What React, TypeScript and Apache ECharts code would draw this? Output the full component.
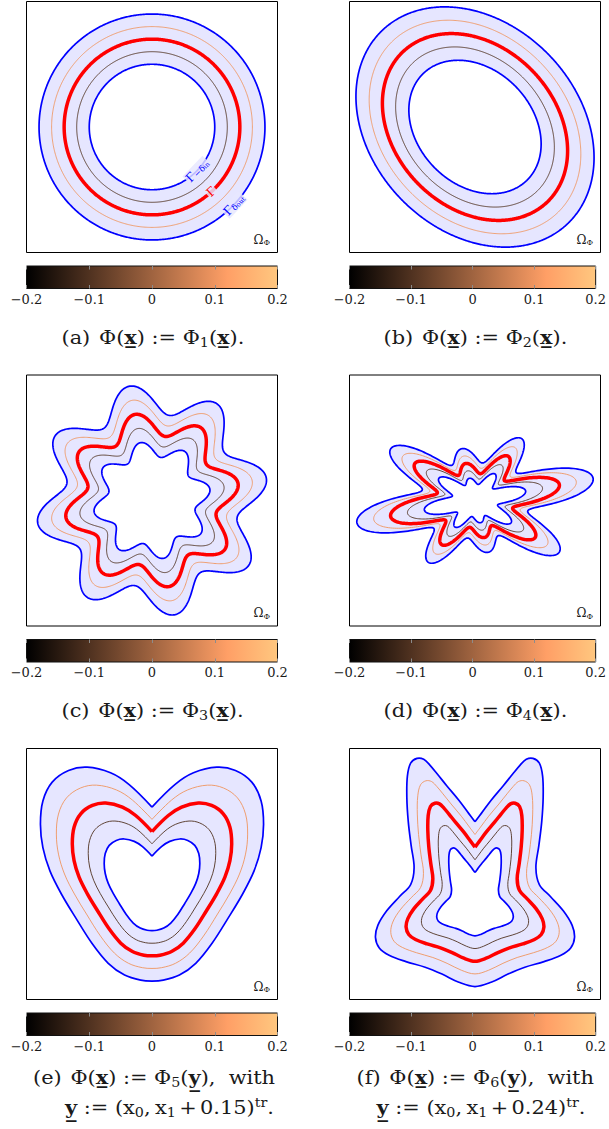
import React, { useEffect, useRef } from "react";
import * as echarts from "echarts";

const W = 609;
const H = 1129;
const FONT = "'DejaVu Serif', 'Liberation Serif', serif";

// ---------- data ----------
const levels = [-0.2, -0.1, 0, 0.1, 0.2];
const levelColors = ["#0000ff", "#503220", "#ff0000", "#ef955f", "#0000ff"];
const levelWidths = [1.7, 0.9, 3.5, 0.9, 1.7];
const bandFill = "#e6e6ff";

const cbTicks = [-0.2, -0.1, 0, 0.1, 0.2];
const copperPos = [0, 0.8, 1];
const copperColors = ["#000000", "#ff9f66", "#ffc77f"];

// (a) circle
const circleR0 = 0.7;
// (b) tilted ellipse (zero level semi-axes)
const ellipseR0 = 0.7;
const ellipseAxes = [0.83, 0.64];
const ellipseTiltDeg = -46;
// (c) eight-lobed flower
const flowerR0 = 0.61;
const flowerAmp = 0.146;
const flowerLobes = 8;
// (d) eight-pointed star, zero level: base and spike amplitude (mean, cos2θ, sin2θ)
const starR0 = 0.5;
const starLobes = 8;
const starBase = [0.377, 0.125, 0.009];
const starAmp = [0.115, 0.076, 0.006];
// (e) heart, zero level, left half (x, y) from notch to bottom
const heartR0 = 0.5;
const heartShift = 0.15;
const heartX = [0, -0.13, -0.236, -0.369, -0.475, -0.568, -0.621, -0.635, -0.621, -0.581, -0.515, -0.435, -0.342, -0.249, -0.156, -0.064, 0];
const heartY = [0.488, 0.616, 0.683, 0.715, 0.696, 0.63, 0.523, 0.39, 0.257, 0.125, -0.008, -0.141, -0.287, -0.401, -0.468, -0.497, -0.502];
// (f) eared shape, zero level, left half (x, y) from notch to bottom
const earsR0 = 0.45;
const earsShift = 0.24;
const earsX = [0, -0.036, -0.089, -0.156, -0.209, -0.249, -0.283, -0.32, -0.355, -0.373, -0.376, -0.368, -0.352, -0.336, -0.355, -0.416, -0.488, -0.536, -0.549, -0.528, -0.474, -0.381, -0.275, -0.182, -0.089, 0];
const earsY = [0.454, 0.502, 0.573, 0.653, 0.719, 0.767, 0.799, 0.804, 0.778, 0.706, 0.587, 0.454, 0.321, 0.201, 0.108, 0.042, -0.038, -0.117, -0.184, -0.242, -0.282, -0.317, -0.348, -0.386, -0.431, -0.455];

const subIndex = ["1", "2", "3", "4", "5", "6"];
const panelLetters = ["a", "b", "c", "d", "e", "f"];
const shiftText = ["", "", "", "", "0.15", "0.24"];

// ---------- layout ----------
const colX = [26.5, 349.5];
const rowY = [1.5, 375, 748.5];
const BOX = 251;
const CB_GAP = 13.5;
const CB_H = 22.5;
const omegaPos = [0.875, -0.9];
const capLeft = [61.5, 383.5];
const capLeft2 = [[33, 65], [356.5, 376.5]];
const CAP_SCALE = 1.1;

const N = 720;

function polarLevels(R0: number, rFn: (t: number) => number) {
  return levels.map((c) => {
    const k = (R0 + c) / R0;
    const pts: number[][] = [];
    for (let i = 0; i <= N; i++) {
      const t = (2 * Math.PI * i) / N;
      const r = k * rFn(t);
      pts.push([r * Math.cos(t), r * Math.sin(t)]);
    }
    return pts;
  });
}

function ellipseLevels() {
  const phi = (ellipseTiltDeg * Math.PI) / 180;
  return levels.map((c) => {
    const k = (ellipseR0 + c) / ellipseR0;
    const pts: number[][] = [];
    for (let i = 0; i <= N; i++) {
      const t = (2 * Math.PI * i) / N;
      const ex = k * ellipseAxes[0] * Math.cos(t);
      const ey = k * ellipseAxes[1] * Math.sin(t);
      pts.push([ex * Math.cos(phi) - ey * Math.sin(phi), ex * Math.sin(phi) + ey * Math.cos(phi)]);
    }
    return pts;
  });
}

function sampledLevels(xs: number[], ys: number[], R0: number, shift: number) {
  const loop: number[][] = xs.map((x, i) => [x, ys[i]]);
  for (let i = xs.length - 2; i >= 0; i--) loop.push([-xs[i], ys[i]]);
  return levels.map((c) => {
    const k = (R0 + c) / R0;
    return loop.map(([x, y]) => [k * x, k * y - shift]);
  });
}

const harm = (h: number[], t: number) => h[0] + h[1] * Math.cos(2 * t) + h[2] * Math.sin(2 * t);

const panels = [
  { col: 0, row: 0, smooth: 0, curves: polarLevels(circleR0, () => circleR0), labels: true },
  { col: 1, row: 0, smooth: 0, curves: ellipseLevels(), labels: false },
  { col: 0, row: 1, smooth: 0, curves: polarLevels(flowerR0, (t) => flowerR0 * (1 + flowerAmp * Math.sin(flowerLobes * t))), labels: false },
  { col: 1, row: 1, smooth: 0, curves: polarLevels(starR0, (t) => harm(starBase, t) + harm(starAmp, t) * Math.sin(starLobes * t)), labels: false },
  { col: 0, row: 2, smooth: 0.35, curves: sampledLevels(heartX, heartY, heartR0, heartShift), labels: false },
  { col: 1, row: 2, smooth: 0.35, curves: sampledLevels(earsX, earsY, earsR0, earsShift), labels: false },
];

const gammaLabels = [
  { r: 0.5, ang: -44, text: "{g|Γ}{s|−δ}{t|in}", color: "#0000ff" },
  { r: 0.7, ang: -47.5, text: "{g|Γ}", color: "#ff0000" },
  { r: 0.9, ang: -43.5, text: "{g|Γ}{s|δ}{t|out}", color: "#0000ff" },
];

const fmtTick = (v: number) => {
  if (Math.abs(v) < 1e-9) return "0";
  return (v < 0 ? "\u2212" : "") + Math.abs(v).toFixed(1);
};

const CAP = "#1a1a1a";
const CS = 19;
const LH = 23;
const capRich = {
  n: { fontFamily: FONT, fontSize: CS, fill: CAP, lineHeight: LH },
  ng: { fontFamily: FONT, fontSize: CS, fill: CAP, lineHeight: LH, padding: [0, 8, 0, 0] },
  op: { fontFamily: FONT, fontSize: CS, fill: CAP, lineHeight: LH, padding: [0, 6, 0, 6] },
  pl: { fontFamily: FONT, fontSize: CS, fill: CAP, lineHeight: LH, padding: [0, 3, 0, 3] },
  nc: { fontFamily: FONT, fontSize: CS, fill: CAP, lineHeight: LH, padding: [0, 4, 0, 0] },
  w: { fontFamily: FONT, fontSize: CS, fill: CAP, lineHeight: LH, padding: [0, 0, 0, 12] },
  b: { fontFamily: FONT, fontSize: CS, fontWeight: "bold", fill: CAP, lineHeight: LH },
  s: { fontFamily: FONT, fontSize: 13, fill: CAP, verticalAlign: "bottom", lineHeight: 15 },
  p: { fontFamily: FONT, fontSize: 13, fill: CAP, verticalAlign: "top", lineHeight: 12 },
};

function buildOption() {
  const grid: any[] = [];
  const xAxis: any[] = [];
  const yAxis: any[] = [];
  const series: any[] = [];
  const graphic: any[] = [];

  panels.forEach((p, idx) => {
    const left = colX[p.col];
    const top = rowY[p.row];
    const gi = grid.length;
    grid.push({ left, top, width: BOX, height: BOX, show: true, borderColor: "#000", borderWidth: 1, backgroundColor: "#fff" });
    const xi = xAxis.length;
    xAxis.push({ type: "value", gridIndex: gi, min: -1, max: 1, show: false });
    const yi = yAxis.length;
    yAxis.push({ type: "value", gridIndex: gi, min: -1, max: 1, show: false });
    series.push({
      type: "custom",
      coordinateSystem: "cartesian2d",
      xAxisIndex: xi,
      yAxisIndex: yi,
      silent: true,
      data: [[0, 0]],
      renderItem: (_params: any, api: any) => {
        const toPx = (pts: number[][]) => pts.map((q) => api.coord(q));
        const children: any[] = [];
        const cv = p.curves;
        children.push({ type: "polyline", shape: { points: toPx(cv[4]), smooth: p.smooth }, style: { fill: bandFill, stroke: "none" } });
        children.push({ type: "polyline", shape: { points: toPx(cv[0]), smooth: p.smooth }, style: { fill: "#ffffff", stroke: "none" } });
        cv.forEach((c, j) => {
          children.push({
            type: "polyline",
            shape: { points: toPx(c), smooth: p.smooth },
            style: { fill: "none", stroke: levelColors[j], lineWidth: levelWidths[j], lineJoin: "round" },
          });
        });
        if (p.labels) {
          gammaLabels.forEach((L) => {
            const a = (L.ang * Math.PI) / 180;
            const pt = api.coord([L.r * Math.cos(a), L.r * Math.sin(a)]);
            children.push({
              type: "text",
              x: pt[0],
              y: pt[1],
              rotation: a + Math.PI / 2,
              style: {
                text: L.text,
                fill: L.color,
                align: "center",
                verticalAlign: "middle",
                backgroundColor: "rgba(230,230,255,0.82)",
                padding: [0, 1],
                rich: {
                  g: { fontFamily: FONT, fontSize: 12, fill: L.color, lineHeight: 13 },
                  s: { fontFamily: FONT, fontSize: 8.5, fill: L.color, verticalAlign: "bottom", lineHeight: 9 },
                  t: { fontFamily: FONT, fontSize: 6.5, fill: L.color, verticalAlign: "bottom", lineHeight: 6 },
                },
              },
            });
          });
        }
        const om = api.coord(omegaPos);
        children.push({
          type: "text",
          x: om[0],
          y: om[1],
          style: {
            text: "{o|Ω}{s|Φ}",
            align: "center",
            verticalAlign: "middle",
            rich: {
              o: { fontFamily: FONT, fontSize: 12, fill: "#1a1a1a", lineHeight: 14 },
              s: { fontFamily: FONT, fontSize: 8, fill: "#1a1a1a", verticalAlign: "bottom", lineHeight: 9 },
            },
          },
        });
        return { type: "group", children };
      },
    });

    // colorbar
    const cg = grid.length;
    grid.push({ left, top: top + BOX + CB_GAP, width: BOX, height: CB_H, show: false });
    const tickStyle = { show: true, inside: true, length: 3.5, lineStyle: { color: "#8c8c8c", width: 1 } };
    const cbx = xAxis.length;
    xAxis.push({
      type: "value", gridIndex: cg, min: cbTicks[0], max: cbTicks[cbTicks.length - 1], interval: 0.1,
      position: "bottom", z: 10, axisLine: { show: false }, splitLine: { show: false }, axisTick: tickStyle,
      axisLabel: { show: true, margin: 4, fontFamily: FONT, fontSize: 13, color: "#1a1a1a", formatter: fmtTick, showMinLabel: true, showMaxLabel: true },
    });
    xAxis.push({
      type: "value", gridIndex: cg, min: cbTicks[0], max: cbTicks[cbTicks.length - 1], interval: 0.1,
      position: "top", z: 10, axisLine: { show: false }, splitLine: { show: false }, axisTick: tickStyle, axisLabel: { show: false },
    });
    const cby = yAxis.length;
    yAxis.push({ type: "value", gridIndex: cg, min: 0, max: 1, show: false });
    series.push({
      type: "custom",
      coordinateSystem: "cartesian2d",
      xAxisIndex: cbx,
      yAxisIndex: cby,
      silent: true,
      z: 1,
      data: [[0, 0]],
      renderItem: (_params: any, api: any) => {
        const a = api.coord([cbTicks[0], 1]);
        const b = api.coord([cbTicks[cbTicks.length - 1], 0]);
        return {
          type: "rect",
          shape: { x: a[0], y: a[1], width: b[0] - a[0], height: b[1] - a[1] },
          style: {
            fill: new echarts.graphic.LinearGradient(0, 0, 1, 0, copperPos.map((o, j) => ({ offset: o, color: copperColors[j] }))),
            stroke: "#111",
            lineWidth: 1,
          },
        };
      },
    });

    // caption
    const letter = panelLetters[idx];
    const sub = subIndex[idx];
    const capY = top + 335.5;
    if (!shiftText[idx]) {
      graphic.push({
        type: "text",
        x: capLeft[p.col],
        y: capY,
        scaleX: CAP_SCALE,
        style: {
          text: `{ng|(${letter})}{n|Φ(}{b|x\u0332}{n|)}{op|:=}{n|Φ}{s|${sub}}{n|(}{b|x\u0332}{n|).}`,
          align: "left",
          verticalAlign: "middle",
          rich: capRich,
        },
      });
    } else {
      graphic.push({
        type: "text",
        x: capLeft2[p.col][0],
        y: capY - 7,
        scaleX: CAP_SCALE,
        style: {
          text: `{ng|(${letter})}{n|Φ(}{b|x\u0332}{n|)}{op|:=}{n|Φ}{s|${sub}}{n|(}{b|y\u0332}{n|),}{w|with}`,
          align: "left",
          verticalAlign: "middle",
          rich: capRich,
        },
      });
      graphic.push({
        type: "text",
        x: capLeft2[p.col][1],
        y: capY + 23,
        scaleX: CAP_SCALE,
        style: {
          text: `{b|y\u0332}{op|:=}{n|(x}{s|0}{nc|,}{n|x}{s|1}{pl|+}{n|${shiftText[idx]})}{p|tr}{n|.}`,
          align: "left",
          verticalAlign: "middle",
          rich: capRich,
        },
      });
    }
  });

  return { animation: false, backgroundColor: "#ffffff", grid, xAxis, yAxis, series, graphic };
}

export default function App() {
  const ref = useRef<HTMLDivElement>(null);
  useEffect(() => {
    if (!ref.current) return;
    const chart = echarts.init(ref.current, null, { renderer: "svg" });
    chart.setOption(buildOption() as any);
    return () => chart.dispose();
  }, []);
  return <div ref={ref} style={{ position: "absolute", left: 0, top: 0, width: W, height: H }} />;
}
